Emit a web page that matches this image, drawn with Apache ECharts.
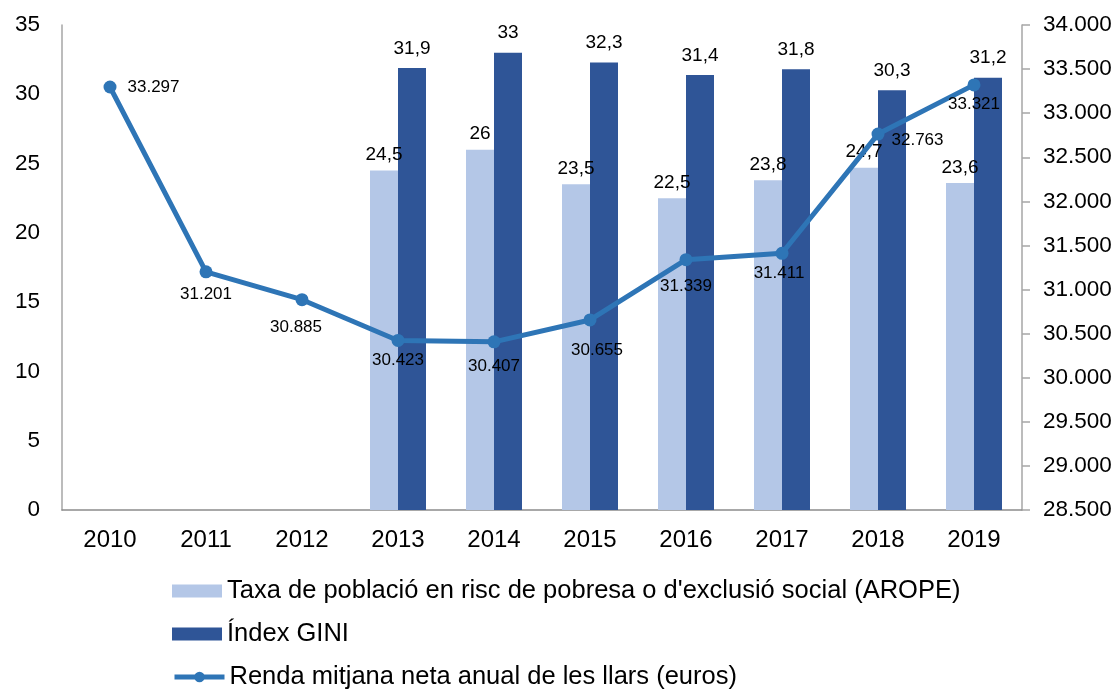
<!DOCTYPE html>
<html><head><meta charset="utf-8">
<script src="https://cdn.jsdelivr.net/npm/echarts@6/dist/echarts.min.js"></script>
<style>html,body{margin:0;padding:0;background:#fff}#c{width:1117px;height:690px}</style>
</head><body><div id="c"></div>
<script>
var years = ['2010','2011','2012','2013','2014','2015','2016','2017','2018','2019'];
var arope = [null, null, null, 24.5, 26, 23.5, 22.5, 23.8, 24.7, 23.6];
var gini = [null, null, null, 31.9, 33, 32.3, 31.4, 31.8, 30.3, 31.2];
var renda = [33297, 31201, 30885, 30423, 30407, 30655, 31339, 31411, 32763, 33321];
var seriesNames = ["Taxa de població en risc de pobresa o d'exclusió social (AROPE)", "Índex GINI", "Renda mitjana neta anual de les llars (euros)"];
// per-point label placement for the line (offsets only)
var lineLabelPos = [
  {position:'right', offset:[6,0]},
  {position:'bottom', offset:[0,2]},
  {position:'bottom', offset:[-6,8]},
  {position:'bottom', offset:[0,0]},
  {position:'bottom', offset:[0,4]},
  {position:'bottom', offset:[7,10]},
  {position:'bottom', offset:[0,7]},
  {position:'bottom', offset:[-3,0]},
  {position:'right', offset:[2,6]},
  {position:'bottom', offset:[0,-1]}
];
function fmtThousand(v){ return String(Math.round(v)).replace(/\B(?=(\d{3})+(?!\d))/g,'.'); }
function fmtDec(v){ return String(v).replace('.',','); }
var font = 'Liberation Sans, Arial, sans-serif';
function mkLegend(name, top, extra){
  var l = {orient:'horizontal', left:172, top:top, padding:0, itemWidth:50, itemHeight:13,
    textStyle:{fontSize:25.5, lineHeight:26, color:'#000', fontFamily:font},
    data:[name]};
  for (var k in extra) l[k] = extra[k];
  return l;
}
var chart = echarts.init(document.getElementById('c'));
chart.setOption({
  animation:false,
  textStyle:{fontFamily:font},
  grid:{left:62, right:95, top:25, bottom:180, containLabel:false},
  legend:[
    mkLegend(seriesNames[0], 578, {icon:'rect'}),
    mkLegend(seriesNames[1], 621, {icon:'rect'}),
    mkLegend(seriesNames[2], 664, {lineStyle:{width:5}})
  ],
  xAxis:{
    type:'category', data:years,
    axisLine:{lineStyle:{color:'#8c8c8c', width:1.5}},
    axisTick:{show:false},
    axisLabel:{fontSize:24, color:'#000', margin:18, fontFamily:font}
  },
  yAxis:[
    {type:'value', min:0, max:35, interval:5, position:'left',
     axisLine:{show:true, lineStyle:{color:'#a6a6a6', width:1.5}},
     axisTick:{show:false}, splitLine:{show:false},
     axisLabel:{fontSize:22.5, color:'#000', margin:22, fontFamily:font}},
    {type:'value', min:28500, max:34000, interval:500, position:'right',
     axisLine:{show:true, lineStyle:{color:'#a6a6a6', width:1.5}},
     axisTick:{show:true, inside:false, length:8, lineStyle:{color:'#a6a6a6', width:1.5}},
     splitLine:{show:false},
     axisLabel:{fontSize:22.5, color:'#000', margin:21, fontFamily:font, formatter:fmtThousand}}
  ],
  series:[
    {name:seriesNames[0], type:'bar', data:arope, yAxisIndex:0, barWidth:28, barGap:'0%',
     itemStyle:{color:'#B4C7E7'},
     label:{show:true, position:'top', distance:6, fontSize:19, color:'#000', fontFamily:font,
       formatter:function(p){return fmtDec(p.value);}}},
    {name:seriesNames[1], type:'bar', data:gini, yAxisIndex:0, barWidth:28, barGap:'0%',
     itemStyle:{color:'#2F5597'},
     label:{show:true, position:'top', distance:10, fontSize:19, color:'#000', fontFamily:font,
       formatter:function(p){return fmtDec(p.value);}}},
    {name:seriesNames[2], type:'line', yAxisIndex:1, z:5,
     data:renda.map(function(v,i){return {value:v, label:lineLabelPos[i]};}),
     symbol:'circle', symbolSize:13,
     lineStyle:{color:'#2E75B6', width:5},
     itemStyle:{color:'#2E75B6'},
     label:{show:true, fontSize:17, color:'#000', fontFamily:font, formatter:function(p){return fmtThousand(p.value);}}}
  ]
});
</script></body></html>
